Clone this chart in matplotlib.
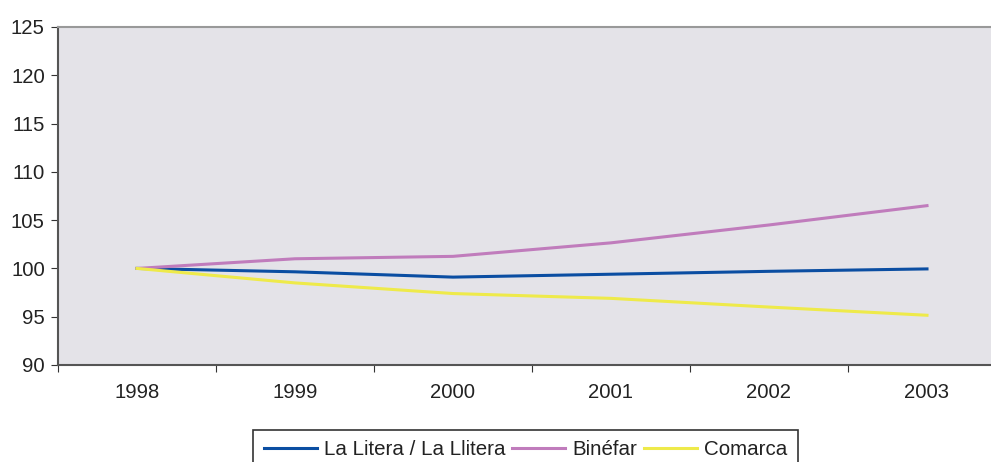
import matplotlib.pyplot as plt

years = ["1998", "1999", "2000", "2001", "2002", "2003"]
litera = [100, 99.65, 99.1, 99.4, 99.7, 99.95]
binefar = [100, 101.0, 101.25, 102.65, 104.5, 106.5]
comarca = [100, 98.5, 97.4, 96.9, 96.0, 95.15]

plt.rcParams['font.family'] = ['Liberation Sans', 'DejaVu Sans']

fig = plt.figure(figsize=(9.91, 4.62), dpi=100)
ax = fig.add_axes([58/991, 1-365/462, (1006-58)/991, (365-27)/462])
ax.set_facecolor("#E4E3E8")

x = range(len(years))
ax.plot(x, litera, color="#0B4EA2", lw=2.2, label="La Litera / La Llitera")
ax.plot(x, binefar, color="#C07CBC", lw=2.2, label="Binéfar")
ax.plot(x, comarca, color="#EEEA4A", lw=2.2, label="Comarca")

ax.set_xlim(-0.5, 5.5)
ax.set_ylim(90, 125)
ax.set_yticks(range(90, 126, 5))
ax.set_xticks([i - 0.5 for i in range(6)], minor=False)
ax.set_xticklabels([])
ax.set_xticks(list(x), minor=True)
ax.set_xticklabels(years, minor=True)
ax.tick_params(axis='x', which='minor', length=0, pad=13, labelsize=14.6, labelcolor="#222222")
ax.tick_params(axis='x', which='major', length=5, color="#333333")
ax.tick_params(axis='y', length=5, color="#333333", labelsize=14.6, pad=4.5, labelcolor="#222222")

for s in ["left", "bottom"]:
    ax.spines[s].set_color("#555555")
    ax.spines[s].set_linewidth(1.5)
ax.spines["top"].set_color("#999999")
ax.spines["top"].set_linewidth(1.5)
ax.spines["right"].set_visible(False)

leg = fig.legend(loc="upper center", bbox_to_anchor=(525.5/991, 1-430/462), ncol=3,
                 fontsize=14.8, handlelength=2.6, handletextpad=0.35, columnspacing=0.3,
                 fancybox=False, edgecolor="#333333", framealpha=1, borderpad=0.5,
                 borderaxespad=0)
leg.get_frame().set_linewidth(1.2)
for t in leg.get_texts():
    t.set_color("#222222")

plt.savefig("out.png", dpi=100)
